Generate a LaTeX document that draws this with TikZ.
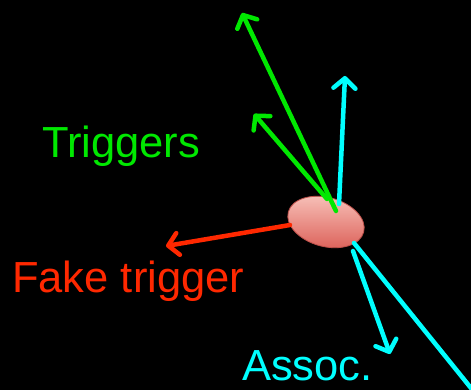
\documentclass[tikz,border=0pt]{standalone}
\usepackage{fontspec}
\setmainfont{Liberation Sans}
\usetikzlibrary{arrows.meta,shapes.geometric}
\definecolor{trg}{RGB}{0,232,0}
\definecolor{fake}{RGB}{255,40,0}
\definecolor{assoc}{RGB}{0,255,255}
\definecolor{blobtop}{RGB}{248,196,188}
\definecolor{blobbot}{RGB}{222,104,96}
\definecolor{blobedge}{RGB}{190,80,74}
\tikzset{
  ray/.style={line width=4.5pt, line cap=round, line join=round,
    -{Straight Barb[length=10pt,width=22pt,line cap=round,line join=round]}},
  lbl/.style={anchor=base west, inner sep=0pt, font=\fontsize{43.5}{43.5}\selectfont}
}
\begin{document}
\begin{tikzpicture}[x=1pt,y=-1pt]
\fill[black] (0,0) rectangle (471,390);
\useasboundingbox (0,0) rectangle (471,390);
\clip (0,0) rectangle (471,390);
% blob
\node[ellipse, minimum width=78pt, minimum height=49pt, inner sep=0pt, rotate=-15,
  draw=blobedge, line width=0.8pt, top color=blobtop, bottom color=blobbot] (blob) at (326,222) {};
% coordinates
\coordinate (g1s) at (336,211);
\coordinate (g1t) at (242,13);
\coordinate (g2s) at (327,199);
\coordinate (g2t) at (254,114);
\coordinate (cus) at (339,204);
\coordinate (cut) at (345,76);
\coordinate (rs) at (290,225);
\coordinate (rt) at (166,246);
\coordinate (cds) at (353,251);
\coordinate (cdt) at (390,354);
\coordinate (cls) at (354,243);
\coordinate (clt) at (479,398);
% arrows
\draw[ray, fake] (rs) -- (rt);
\draw[ray, assoc] (cds) -- (cdt);
\draw[ray, assoc] (cls) -- (clt);
\draw[ray, assoc] (cus) -- (cut);
\draw[ray, trg] (g2s) -- (g2t);
\draw[ray, trg] (g1s) -- (g1t);
% labels
\node[lbl, text=trg] (ltrig) at (42,158) {Triggers};
\node[lbl, text=fake] (lfake) at (12,292) {Fake trigger};
\node[lbl, text=assoc] (lassoc) at (242,380) {Assoc.};
\end{tikzpicture}
\end{document}
